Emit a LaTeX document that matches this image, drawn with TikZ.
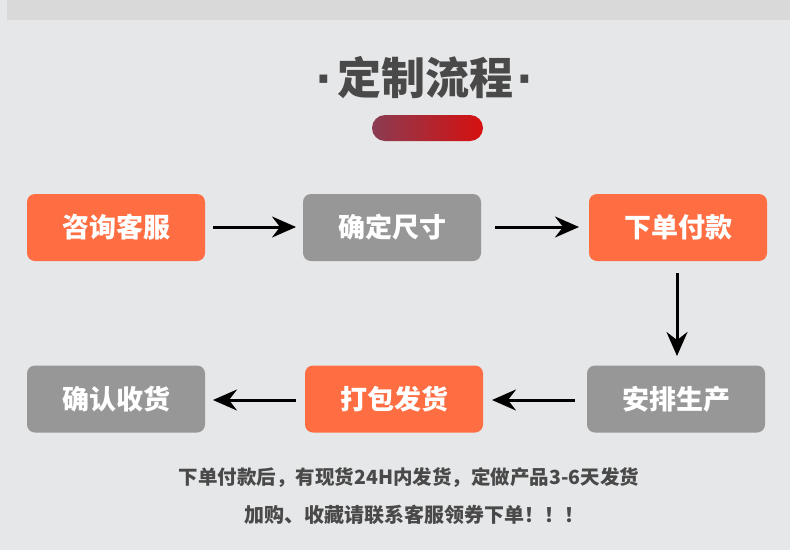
\documentclass[tikz,border=0pt]{standalone}
\usepackage{fontspec}
\newfontfamily\cjk{Noto Sans CJK SC}
\newfontfamily\dotfont{DejaVu Sans}
\usetikzlibrary{arrows.meta}
\definecolor{bg}{HTML}{E6E7E8}
\definecolor{band}{HTML}{D9D9D9}
\definecolor{orng}{HTML}{FE6E42}
\definecolor{grayb}{HTML}{979797}
\definecolor{txt}{HTML}{494949}
\definecolor{pillL}{HTML}{8A3C52}
\definecolor{pillR}{HTML}{D61010}
\tikzset{
  stepbox/.style={rounded corners=8pt, minimum width=178pt, minimum height=67pt, inner sep=0pt,
    text=white, font=\cjk\bfseries\fontsize{27}{27}\selectfont},
  obox/.style={stepbox, fill=orng},
  gbox/.style={stepbox, fill=grayb},
  flow/.style={line width=3pt, -{Stealth[length=24pt,width=21pt,inset=8pt]}},
  titledot/.style={text=txt, inner sep=0pt, anchor=base, font=\dotfont\bfseries\fontsize{44}{44}\selectfont},
}
\begin{document}
\begin{tikzpicture}[x=1pt,y=-1pt]
\fill[bg] (0,0) rectangle (790,550);
\useasboundingbox (0,0) rectangle (790,550);
\fill[band] (7,0) rectangle (790,20);
\node[text=txt, inner sep=0pt, font=\cjk\bfseries\fontsize{44}{44}\selectfont] (title) at (425,78) {定制流程};
\node[titledot] (dl) at ([xshift=-13pt]title.base west) {·};
\node[titledot] (dr) at ([xshift=12pt]title.base east) {·};
\shade[left color=pillL, right color=pillR, rounded corners=13pt] (372,115) rectangle (483,141);
\node[obox] (a) at (116,227.5) {咨询客服};
\node[gbox] (b) at (392,227.5) {确定尺寸};
\node[obox] (c) at (678,227.5) {下单付款};
\node[gbox] (f) at (676,399) {安排生产};
\node[obox] (e) at (394,399) {打包发货};
\node[gbox] (d) at (116,399) {确认收货};
\coordinate (a1) at (213,227); \coordinate (a2) at (296,227);
\coordinate (b1) at (495,227); \coordinate (b2) at (579,227);
\coordinate (c1) at (677,273); \coordinate (c2) at (677,356);
\coordinate (f1) at (575,400); \coordinate (f2) at (492,400);
\coordinate (e1) at (296,400); \coordinate (e2) at (213,400);
\draw[flow] (a1) -- (a2);
\draw[flow] (b1) -- (b2);
\draw[flow] (c1) -- (c2);
\draw[flow] (f1) -- (f2);
\draw[flow] (e1) -- (e2);
\node[text=txt, font=\cjk\bfseries\fontsize{19.5}{19.5}\selectfont] (l1) at (409,478) {下单付款后，有现货24H内发货，定做产品3-6天发货};
\node[text=txt, font=\cjk\bfseries\fontsize{20}{20}\selectfont] (l2) at (414,515) {加购、收藏请联系客服领券下单！！！};
\end{tikzpicture}
\end{document}
